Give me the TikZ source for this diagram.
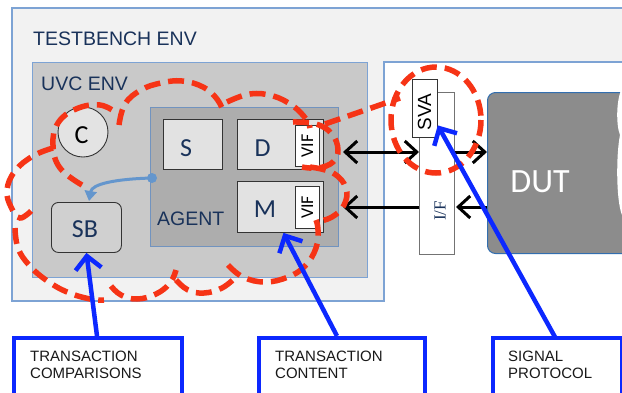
\documentclass[tikz,border=0pt]{standalone}
\usepackage{fontspec}
\setmainfont{Liberation Sans}
\newfontfamily\carl{Carlito}
\newfontfamily\serf{Liberation Serif}
\usetikzlibrary{arrows.meta,calc}
\definecolor{tbfill}{RGB}{242,242,242}
\definecolor{envblue}{RGB}{125,163,212}
\definecolor{uvcfill}{RGB}{201,201,201}
\definecolor{agfill}{RGB}{173,173,173}
\definecolor{boxfill}{RGB}{226,226,226}
\definecolor{navy}{RGB}{25,50,90}
\definecolor{dutfill}{RGB}{140,140,140}
\definecolor{dutborder}{RGB}{50,110,175}
\definecolor{cloudred}{RGB}{246,52,22}
\definecolor{ptrblue}{RGB}{12,40,255}
\definecolor{steel}{RGB}{100,150,205}
\tikzset{
  envbox/.style={draw=envblue, line width=1.3pt, inner sep=0pt, anchor=north west},
  itembox/.style={draw=black!80, fill=boxfill, line width=0.9pt, inner sep=0pt, anchor=north west},
  vifbox/.style={draw=black!80, fill=white, line width=0.8pt, inner sep=0pt, anchor=north west},
  lettr/.style={font=\carl\fontsize{26}{28}\selectfont, text=navy, inner sep=0pt},
  envlbl/.style={font=\fontsize{19.5}{22}\selectfont, text=navy, inner sep=0pt, anchor=north west},
  viftxt/.style={font=\carl\fontsize{18}{20}\selectfont, text=black, inner sep=0pt, rotate=90},
  cloud/.style={draw=cloudred, line width=5.5pt, dash pattern=on 16pt off 8pt},
  blk/.style={draw=black, line width=3pt},
  ptr/.style={draw=ptrblue, line width=4.5pt, -{Straight Barb[length=13pt,width=26pt]}},
  labbox/.style={draw=ptrblue, fill=white, line width=4pt, inner sep=0pt, anchor=north west},
  labtxt/.style={font=\fontsize{15}{17}\selectfont, text=black!90, inner sep=0pt, anchor=north west, align=left}
}
\begin{document}
\begin{tikzpicture}[x=1pt,y=-1pt, >={Straight Barb[length=12pt,width=22pt]}]
\useasboundingbox (0,0) rectangle (622,392);
\clip (0,0) rectangle (622,392);
% testbench (L-shaped)
\draw[fill=tbfill, draw=envblue, line width=1.3pt] (12,8) -- (660,8) -- (660,62) -- (384,62) -- (384,301) -- (12,301) -- cycle;
\node[envlbl] (tblbl) at (33,32) {TESTBENCH ENV};
% UVC env
\node[envbox, fill=uvcfill, minimum width=335pt, minimum height=215pt] (uvc) at (32,62) {};
\node[envlbl] (uvclbl) at (41,77) {UVC ENV};
% agent
\node[envbox, draw=envblue!90!black, fill=agfill, minimum width=188pt, minimum height=139pt] (agent) at (150,107) {};
\node[envlbl] (aglbl) at (157,212) {AGENT};
% S D M
\node[itembox, minimum width=59pt, minimum height=50pt] (S) at (163,119) {};
\node[lettr] (St) at (186,148.5) {S};
\node[itembox, minimum width=86pt, minimum height=50pt] (D) at (237,119) {};
\node[lettr] (Dt) at (262.5,148.5) {D};
\node[vifbox, minimum width=24pt, minimum height=41pt] (vif1) at (295,125) {};
\node[viftxt] (vif1t) at (vif1.center) {VIF};
\node[itembox, minimum width=86pt, minimum height=51pt] (M) at (237,181) {};
\node[lettr] (Mt) at (265,209) {M};
\node[vifbox, minimum width=24pt, minimum height=42pt] (vif2) at (295,186) {};
\node[viftxt] (vif2t) at (vif2.center) {VIF};
% C and SB
\node[circle, draw=black!80, fill=boxfill!95!white, line width=0.9pt, minimum size=50pt, inner sep=0pt] (C) at (83,132) {};
\node[lettr, text=black] (Ct) at (81.5,135) {C};
\node[itembox, rounded corners=7pt, fill=boxfill!92!black, minimum width=70pt, minimum height=50pt] (SB) at (51,202) {};
\node[lettr] (SBt) at (85,229) {SB};
% steel connector
\node[circle, fill=steel, minimum size=10pt, inner sep=0pt] (dot) at (152,178) {};
\coordinate (sbtop) at (89,201);
\draw[steel, line width=3pt, -{Triangle[length=10pt,width=12pt]}] (dot.center) .. controls (115,179) and (92,184) .. (sbtop);
% interface, SVA, DUT
\node[vifbox, draw=black!55, line width=1pt, minimum width=35pt, minimum height=162pt] (IF) at (419,92) {};
\node[font=\serf\fontsize{17}{19}\selectfont, text=navy, inner sep=0pt, rotate=90] (IFt) at (440,211) {I/F};
\node[vifbox, minimum width=25pt, minimum height=58pt] (SVA) at (412,79) {};
\node[font=\fontsize{19}{21}\selectfont, text=black, inner sep=0pt, rotate=90] (SVAt) at (424.5,112) {SVA};
\node[draw=dutborder, fill=dutfill, line width=1pt, rounded corners=8pt, inner sep=0pt, anchor=north west, minimum width=160pt, minimum height=161pt] (DUT) at (487,92) {};
\fill[white] (630,88) -- (622,88) .. controls (616,100) and (616,125) .. (620,135) .. controls (616,155) and (616,200) .. (622,215) -- (630,215) -- cycle;
\node[font=\carl\fontsize{34}{36}\selectfont, text=white, inner sep=0pt] (DUTt) at (540,181.5) {DUT};
% black arrows
\coordinate (a1) at (343,152);
\coordinate (a2) at (343,207);
\draw[blk,<->] (a1) -- (IF.west |- a1);
\draw[blk,->] (IF.east |- a1) -- (DUT.west |- a1);
\draw[blk,->] (IF.west |- a2) -- (a2);
\draw[blk,->] (DUT.west |- a2) -- ($(IF.east |- a2)+(1,0)$);
% red cloud
\draw[cloud] plot[smooth, tension=0.7] coordinates {(82,185) (60,168) (53,145) (58,123) (76,109) (100,105) (118,114)};
\draw[cloud] plot[smooth, tension=0.7] coordinates {(53,148) (33,156) (15,171) (7,190) (11,207) (20,218) (32,210)};
\draw[cloud] plot[smooth, tension=0.7] coordinates {(15,228) (18,248) (29,265) (46,280) (67,292) (90,299) (104,300)};
\draw[cloud] plot[smooth, tension=0.7] coordinates {(111,286) (121,295) (137,299) (156,294) (170,283) (176,270)};
\draw[cloud] plot[smooth, tension=0.7] coordinates {(176,280) (188,290) (204,293) (222,288) (236,277)};
\draw[cloud] plot[smooth, tension=0.7] coordinates {(228,265) (243,277) (265,282) (288,277) (305,266) (316,248) (318,230) (316,220)};
\draw[cloud] plot[smooth, tension=0.7] coordinates {(310,167) (333,173) (346,188) (344,205) (332,217) (316,222)};
\draw[cloud] plot[smooth, tension=0.7] coordinates {(293,122) (316,124) (332,134) (338,150) (333,162) (318,168) (302,167)};
\draw[cloud] plot[smooth, tension=0.7] coordinates {(227,102) (250,94) (273,96) (293,106) (306,119) (310,128)};
\draw[cloud] plot[smooth, tension=0.7] coordinates {(119,125) (125,104) (141,90) (161,83) (182,81) (203,87) (217,99) (224,113)};
\draw[cloud] (325,124) -- (400,98);
\draw[cloud] (436,120) ellipse [x radius=45, y radius=53];
% label boxes
\node[labbox, minimum width=168pt, minimum height=80pt] (L1) at (12,336) {};
\node[labtxt] (L1t) at (30,351) {TRANSACTION\\COMPARISONS};
\node[labbox, minimum width=166pt, minimum height=80pt] (L2) at (257,336) {};
\node[labtxt] (L2t) at (275,351) {TRANSACTION\\CONTENT};
\node[labbox, minimum width=129pt, minimum height=80pt] (L3) at (491,336) {};
\node[labtxt] (L3t) at (508,351) {SIGNAL\\PROTOCOL};
% pointers
\coordinate (p1) at (97,336);
\coordinate (p2) at (337,336);
\coordinate (p3) at (555,337);
\draw[ptr] (p1) -- (SB.south);
\draw[ptr] (p2) -- ($(M.south)+(3,0)$);
\draw[ptr] (p3) -- ($(SVA.east)+(0,17)$);
\end{tikzpicture}
\end{document}
